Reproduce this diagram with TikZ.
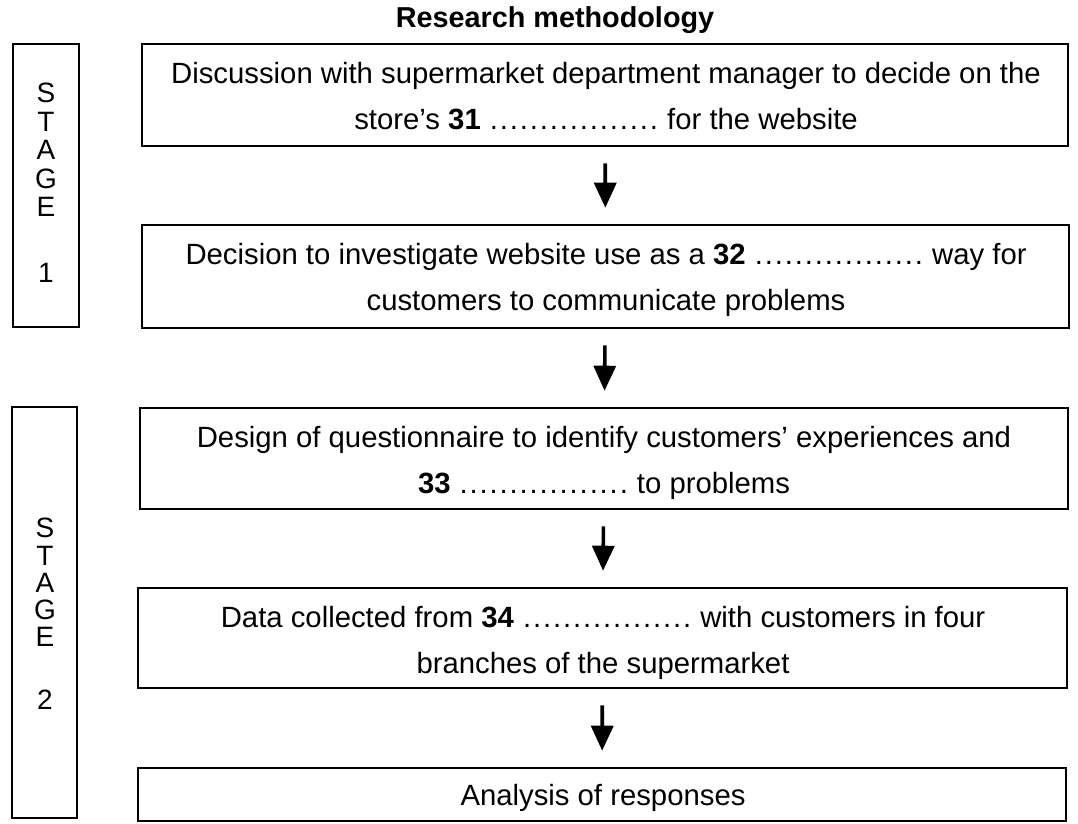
\documentclass[tikz,border=0pt]{standalone}
\usepackage{fontspec}
\setmainfont{Liberation Sans}
\usetikzlibrary{arrows.meta}
\newcommand{\blankdots}{\hbox to 170pt{\leaders\hbox to 10pt{\hss.\hss}\hfill}}
\begin{document}
\begin{tikzpicture}[x=1pt,y=-1pt,
  box/.style={draw,line width=2.6pt,inner sep=0pt},
  txt/.style={anchor=base,inner sep=0pt,font=\fontsize{29.3}{29.3}\selectfont},
  stagelbl/.style={align=center,inner sep=0pt},
  arr/.style={line width=3.6pt,-{Triangle[width=22pt,length=25pt]},shorten <=16pt,shorten >=16pt}]
\useasboundingbox (0,0) rectangle (1078,823);
% title
\node[anchor=base,inner sep=0pt,font=\bfseries\fontsize{28.8}{28.8}\selectfont] (title) at (555,27) {Research methodology};
% stage boxes
\node[box,minimum width=66pt,minimum height=283pt] (s1) at (46,185.5) {};
\node[box,minimum width=65pt,minimum height=411pt] (s2) at (44.5,612.5) {};
\node[stagelbl,font=\fontsize{28}{28.5}\selectfont] (s1t) at (46,183) {S\\T\\A\\G\\E\\[37.5pt]1};
\node[stagelbl,font=\fontsize{28}{27.25}\selectfont] (s2t) at (45,614) {S\\T\\A\\G\\E\\[35.75pt]2};
% boxes
\node[box,minimum width=926pt,minimum height=102pt] (b1) at (605,95) {};
\node[box,minimum width=927pt,minimum height=103pt] (b2) at (605.5,276.5) {};
\node[box,minimum width=928pt,minimum height=101pt] (b3) at (604,458.5) {};
\node[box,minimum width=929pt,minimum height=100pt] (b4) at (602.5,638) {};
\node[box,minimum width=928pt,minimum height=53pt] (b5) at (602,794.5) {};
% texts
\node[txt] (t1a) at (606,83) {Discussion with supermarket department manager to decide on the};
\node[txt] (t1b) at (606,129) {store’s \textbf{31} \blankdots{} for the website};
\node[txt] (t2a) at (606,264) {Decision to investigate website use as a \textbf{32} \blankdots{} way for};
\node[txt] (t2b) at (606,310) {customers to communicate problems};
\node[txt] (t3a) at (604,447) {Design of questionnaire to identify customers’ experiences and};
\node[txt] (t3b) at (604,493) {\textbf{33} \blankdots{} to problems};
\node[txt] (t4a) at (603,627) {Data collected from \textbf{34} \blankdots{} with customers in four};
\node[txt] (t4b) at (603,673) {branches of the supermarket};
\node[txt] (t5) at (603,805) {Analysis of responses};
% arrows
\draw[arr] (b1) -- (b2);
\draw[arr] (b2) -- (b3);
\draw[arr] (b3) -- (b4);
\draw[arr] (b4) -- (b5);
\end{tikzpicture}
\end{document}
